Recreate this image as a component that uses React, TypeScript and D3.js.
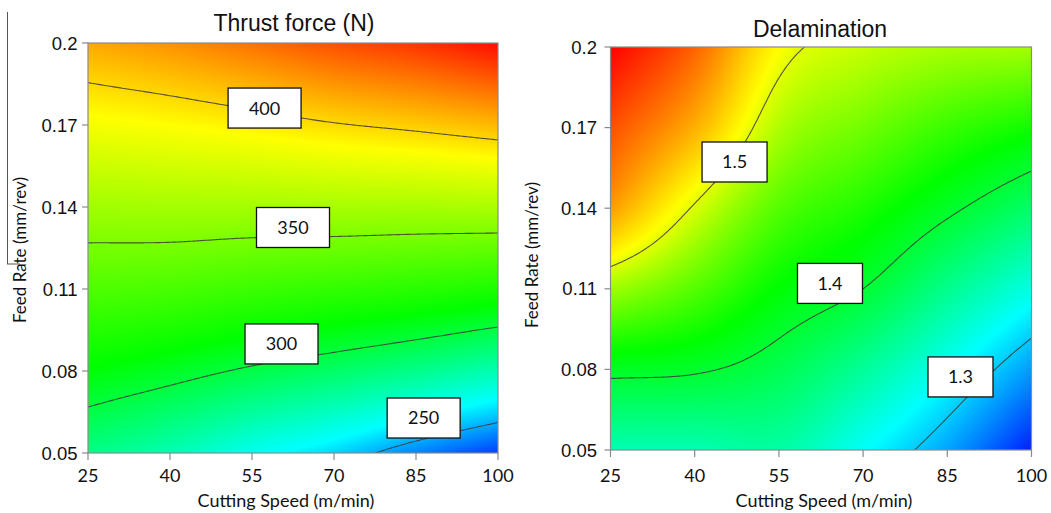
import React, { useMemo } from "react";
import * as d3 from "d3";

// ---------- data ----------
const speedTicks = [25, 40, 55, 70, 85, 100];
const feedTicks = [0.05, 0.08, 0.11, 0.14, 0.17, 0.2];
const feedTickLabels = ["0.05", "0.08", "0.11", "0.14", "0.17", "0.2"];

// response values read at tick grid: rows = feed 0.05 -> 0.2, cols = speed 25 -> 100
const thrustGrid = [
  [286, 277, 265, 256, 244, 234],
  [311, 305, 298, 292, 285, 277],
  [336, 334, 330, 327, 324, 320],
  [361, 362, 362, 363, 363, 364],
  [387, 390, 394, 399, 403, 408],
  [412, 418, 426, 435, 442, 452],
];
const delamGrid = [
  [1.35, 1.35, 1.355, 1.322, 1.284, 1.232],
  [1.407, 1.403, 1.388, 1.36, 1.324, 1.281],
  [1.477, 1.45, 1.419, 1.4, 1.365, 1.33],
  [1.56, 1.497, 1.45, 1.43, 1.405, 1.379],
  [1.6, 1.55, 1.482, 1.46, 1.44, 1.425],
  [1.64, 1.59, 1.511, 1.49, 1.48, 1.478],
];

const thrustLevels = [250, 300, 350, 400];
const delamLevels = [1.3, 1.4, 1.5];

const thrustLabelText = ["400", "350", "300", "250"];
const thrustLabelSpeed = [57.3, 62.5, 60.4, 86.4];
const thrustLabelFeed = [0.1762, 0.1325, 0.0899, 0.0628];

const delamLabelText = ["1.5", "1.4", "1.3"];
const delamLabelSpeed = [47.1, 64.1, 87.35];
const delamLabelFeed = [0.1572, 0.112, 0.0772];

// colour stops (value -> blue, cyan, green, yellow, red)
const thrustColorStops = [225, 262, 312, 390, 455];
const delamColorStops = [1.22, 1.32, 1.42, 1.51, 1.64];
const rampColors = [
  [0, 0, 255],
  [0, 255, 255],
  [0, 255, 0],
  [255, 255, 0],
  [255, 0, 0],
];

// ---------- helpers ----------
function cr(p0: number, p1: number, p2: number, p3: number, t: number) {
  return (
    0.5 *
    (2 * p1 +
      (-p0 + p2) * t +
      (2 * p0 - 5 * p1 + 4 * p2 - p3) * t * t +
      (-p0 + 3 * p1 - 3 * p2 + p3) * t * t * t)
  );
}

function makeSampler(grid: number[][]) {
  const nr = grid.length;
  const nc = grid[0].length;
  const g = (r: number, c: number): number => {
    if (r < 0) return 2 * g(0, c) - g(1, c);
    if (r > nr - 1) return 2 * g(nr - 1, c) - g(nr - 2, c);
    if (c < 0) return 2 * g(r, 0) - g(r, 1);
    if (c > nc - 1) return 2 * g(r, nc - 1) - g(r, nc - 2);
    return grid[r][c];
  };
  return (u: number, v: number) => {
    let c = Math.floor(u);
    c = Math.max(0, Math.min(nc - 2, c));
    const t = u - c;
    let r = Math.floor(v);
    r = Math.max(0, Math.min(nr - 2, r));
    const s = v - r;
    const rv: number[] = [];
    for (let k = -1; k <= 2; k++) {
      rv.push(cr(g(r + k, c - 1), g(r + k, c), g(r + k, c + 1), g(r + k, c + 2), t));
    }
    return cr(rv[0], rv[1], rv[2], rv[3], s);
  };
}

function colorOf(v: number, stops: number[]) {
  if (v <= stops[0]) return rampColors[0];
  const n = stops.length;
  if (v >= stops[n - 1]) return rampColors[n - 1];
  let k = 0;
  while (k < n - 2 && v > stops[k + 1]) k++;
  const t = (v - stops[k]) / (stops[k + 1] - stops[k]);
  const a = rampColors[k];
  const b = rampColors[k + 1];
  return [a[0] + (b[0] - a[0]) * t, a[1] + (b[1] - a[1]) * t, a[2] + (b[2] - a[2]) * t];
}

type PanelProps = {
  id: string;
  grid: number[][];
  levels: number[];
  stops: number[];
  labelText: string[];
  labelSpeed: number[];
  labelFeed: number[];
  boxW: number;
  left: number;
  right: number;
  top: number;
  bottom: number;
  title: string;
  titleX: number;
  titleY: number;
  yTitleX: number;
  yTitleY: number;
  xTitleX: number;
  yTickOffset: number;
};

function Panel(p: PanelProps) {
  const x = d3.scaleLinear().domain([25, 100]).range([p.left, p.right]);
  const y = d3.scaleLinear().domain([0.05, 0.2]).range([p.bottom, p.top]);
  const sampler = useMemo(() => makeSampler(p.grid), [p.grid]);
  const value = (s: number, f: number) => sampler((s - 25) / 15, (f - 0.05) / 0.03);

  const href = useMemo(() => {
    const W = Math.round(p.right - p.left);
    const H = Math.round(p.bottom - p.top);
    const cv = document.createElement("canvas");
    cv.width = W;
    cv.height = H;
    const ctx = cv.getContext("2d")!;
    const img = ctx.createImageData(W, H);
    for (let py = 0; py < H; py++) {
      for (let px = 0; px < W; px++) {
        const s = x.invert(p.left + ((px + 0.5) * (p.right - p.left)) / W);
        const f = y.invert(p.top + ((py + 0.5) * (p.bottom - p.top)) / H);
        const c = colorOf(value(s, f), p.stops);
        const o = (py * W + px) * 4;
        img.data[o] = c[0];
        img.data[o + 1] = c[1];
        img.data[o + 2] = c[2];
        img.data[o + 3] = 255;
      }
    }
    ctx.putImageData(img, 0, 0);
    return cv.toDataURL();
  }, []);

  const lines = useMemo(() => {
    const N = 241;
    const M = 241;
    const vals = new Array(N * M);
    for (let j = 0; j < M; j++) {
      const f = 0.2 - (j / (M - 1)) * 0.15;
      for (let i = 0; i < N; i++) {
        const s = 25 + (i / (N - 1)) * 75;
        vals[j * N + i] = value(s, f);
      }
    }
    const cs = d3.contours().size([N, M]).thresholds(p.levels)(vals);
    const onB = (pt: number[]) => pt[0] <= 0 || pt[0] >= N || pt[1] <= 0 || pt[1] >= M;
    const toPx = (pt: number[]): [number, number] => [
      x(25 + ((pt[0] - 0.5) / (N - 1)) * 75),
      y(0.2 - ((pt[1] - 0.5) / (M - 1)) * 0.15),
    ];
    const paths: string[] = [];
    const lineGen = d3.line();
    cs.forEach((c) => {
      c.coordinates.forEach((poly) => {
        poly.forEach((ring) => {
          let cur: [number, number][] = [];
          for (let k = 0; k < ring.length - 1; k++) {
            const a = ring[k];
            const b = ring[k + 1];
            if (onB(a) && onB(b)) {
              if (cur.length >= 2) paths.push(lineGen(cur)!);
              cur = [];
            } else {
              if (cur.length === 0) cur.push(toPx(a));
              cur.push(toPx(b));
            }
          }
          if (cur.length >= 2) paths.push(lineGen(cur)!);
        });
      });
    });
    return paths;
  }, []);

  const frame = "#8a8a8a";
  return (
    <g>
      <defs>
        <clipPath id={p.id + "-clip"}>
          <rect x={p.left} y={p.top} width={p.right - p.left} height={p.bottom - p.top} />
        </clipPath>
      </defs>
      <image
        href={href}
        x={p.left}
        y={p.top}
        width={p.right - p.left}
        height={p.bottom - p.top}
        preserveAspectRatio="none"
      />
      <g clipPath={`url(#${p.id}-clip)`}>
        {lines.map((d, i) => (
          <path key={i} d={d} fill="none" stroke="#3a3a3a" strokeOpacity={0.85} strokeWidth={1.1} />
        ))}
      </g>
      <rect
        x={p.left}
        y={p.top}
        width={p.right - p.left}
        height={p.bottom - p.top}
        fill="none"
        stroke={frame}
        strokeWidth={1.2}
      />
      {speedTicks.map((t) => (
        <g key={"xt" + t}>
          <line x1={x(t)} x2={x(t)} y1={p.bottom} y2={p.bottom + 7} stroke={frame} strokeWidth={1.2} />
          <text
            x={x(t)}
            y={482}
            textAnchor="middle"
            fontFamily="Lato, 'Open Sans', sans-serif"
            fontSize={18}
            fill="#111"
          >
            {t}
          </text>
        </g>
      ))}
      {feedTicks.map((t, i) => (
        <g key={"yt" + t}>
          <line x1={p.left - 6} x2={p.left} y1={y(t)} y2={y(t)} stroke={frame} strokeWidth={1.2} />
          <text
            x={p.left - p.yTickOffset}
            y={y(t)}
            dy="0.36em"
            textAnchor="end"
            fontFamily="'Liberation Sans', Arial, sans-serif"
            fontSize={18.5}
            fill="#111"
          >
            {feedTickLabels[i]}
          </text>
        </g>
      ))}
      {p.labelText.map((t, i) => {
        const cx = x(p.labelSpeed[i]);
        const cy = y(p.labelFeed[i]);
        return (
          <g key={"lb" + i}>
            <rect
              x={cx - p.boxW / 2}
              y={cy - 20}
              width={p.boxW}
              height={40}
              fill="#fff"
              stroke="#111"
              strokeWidth={1.3}
            />
            <text
              x={cx}
              y={cy}
              dy="0.36em"
              textAnchor="middle"
              fontFamily="Lato, 'Open Sans', sans-serif"
              fontSize={18}
              fill="#111"
            >
              {t}
            </text>
          </g>
        );
      })}
      <text
        x={p.titleX}
        y={p.titleY}
        textAnchor="middle"
        fontFamily="'Liberation Sans', Arial, sans-serif"
        fontSize={23}
        fill="#111"
      >
        {p.title}
      </text>
      <text
        x={p.xTitleX}
        y={507}
        textAnchor="middle"
        fontFamily="Lato, 'Open Sans', sans-serif"
        fontSize={18}
        fill="#111"
      >
        Cutting Speed (m/min)
      </text>
      <text
        transform={`translate(${p.yTitleX},${p.yTitleY}) rotate(-90)`}
        textAnchor="middle"
        dy="0.35em"
        fontFamily="Lato, 'Open Sans', sans-serif"
        fontSize={17}
        fill="#111"
      >
        Feed Rate (mm/rev)
      </text>
    </g>
  );
}

export default function App() {
  return (
    <svg
      width={1051}
      height={513}
      style={{ position: "absolute", left: 0, top: 0, display: "block", background: "#fff" }}
    >
      <rect x={0} y={0} width={1051} height={513} fill="#fff" />
      <line x1={7.5} x2={7.5} y1={12} y2={264} stroke="#555" strokeWidth={1} />
      <line x1={7} x2={20} y1={264} y2={264} stroke="#555" strokeWidth={1} />
      <Panel
        id="thrust"
        grid={thrustGrid}
        levels={thrustLevels}
        stops={thrustColorStops}
        labelText={thrustLabelText}
        labelSpeed={thrustLabelSpeed}
        labelFeed={thrustLabelFeed}
        boxW={73}
        left={88}
        right={498}
        top={43}
        bottom={453}
        title="Thrust force (N)"
        titleX={294}
        titleY={31}
        yTitleX={20}
        yTitleY={250}
        xTitleX={286}
        yTickOffset={10.5}
      />
      <Panel
        id="delam"
        grid={delamGrid}
        levels={delamLevels}
        stops={delamColorStops}
        labelText={delamLabelText}
        labelSpeed={delamLabelSpeed}
        labelFeed={delamLabelFeed}
        boxW={65}
        left={610.5}
        right={1031.5}
        top={47}
        bottom={450}
        title="Delamination"
        titleX={820}
        titleY={37}
        yTitleX={532}
        yTitleY={255}
        xTitleX={824}
        yTickOffset={13.5}
      />
    </svg>
  );
}
